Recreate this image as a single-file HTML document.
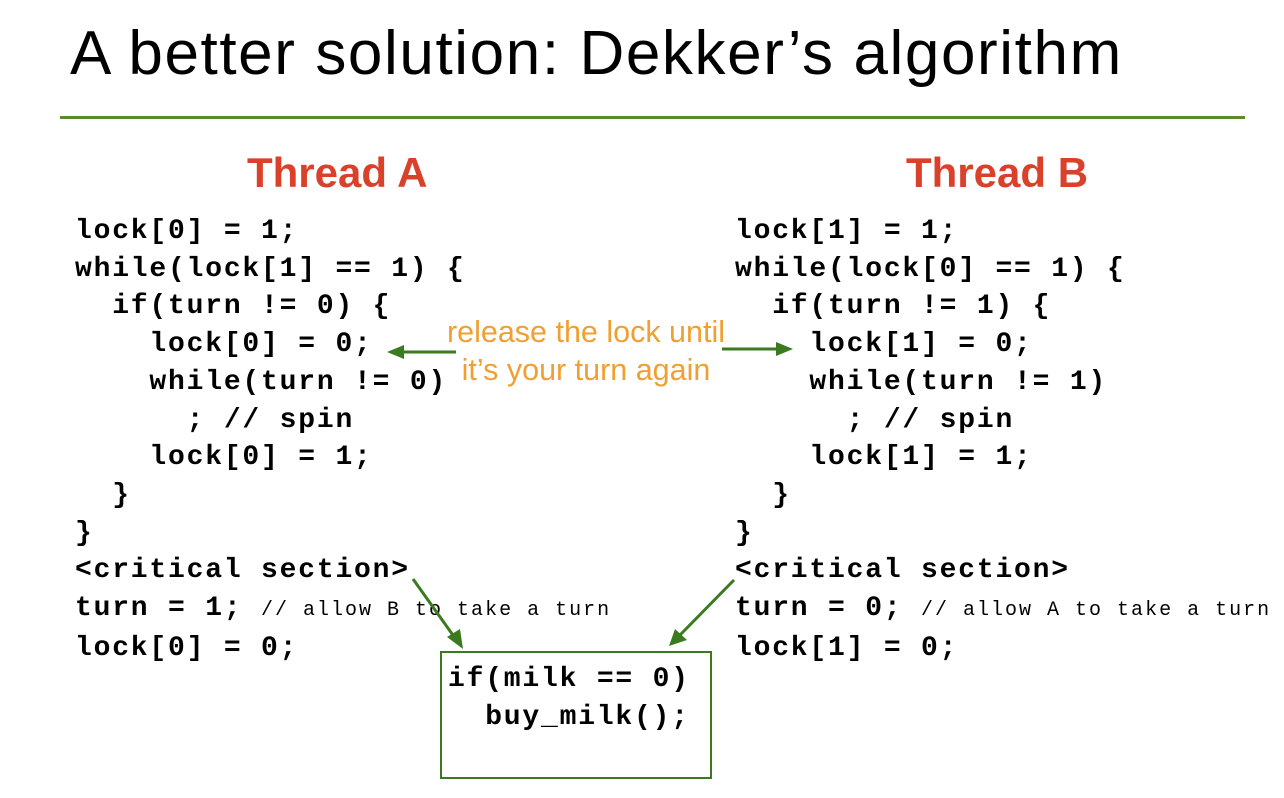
<!DOCTYPE html>
<html><head><meta charset="utf-8"><style>
body{margin:0;width:1284px;height:798px;background:#fff;overflow:hidden;position:relative;font-family:"Liberation Sans",sans-serif}
.t{position:absolute;left:70px;top:23px;font-size:62px;line-height:62px;color:#000;white-space:nowrap;letter-spacing:1.6px}
.hr{position:absolute;left:60px;top:116px;width:1185px;height:3px;background:#5b8a2b}
.th{position:absolute;top:149px;font-size:42px;font-weight:bold;color:#d9412b;white-space:nowrap}
.c{position:absolute;font-family:"Liberation Mono",monospace;font-size:28px;font-weight:bold;letter-spacing:1.8px;white-space:pre;line-height:37.7px;color:#000}
.cm{font-size:20px;letter-spacing:2px;font-weight:normal}
.o{position:absolute;left:416px;top:313px;width:340px;text-align:center;font-size:30.5px;line-height:38px;color:#f0a032}
.box{position:absolute;left:440px;top:651px;width:268px;height:124px;border:2px solid #3b7a1f}
</style></head><body>
<div class="t">A better solution: Dekker’s algorithm</div>
<div class="hr"></div>
<div class="th" style="left:247px">Thread A</div>
<div class="th" style="left:906px">Thread B</div>
<div class="c" style="left:75px;top:213px">lock[0] = 1;
while(lock[1] == 1) {
  if(turn != 0) {
    lock[0] = 0;
    while(turn != 0)
      ; // spin
    lock[0] = 1;
  }
}
&lt;critical section&gt;
turn = 1; <span class="cm">// allow B to take a turn</span>
lock[0] = 0;</div>
<div class="c" style="left:735px;top:213px">lock[1] = 1;
while(lock[0] == 1) {
  if(turn != 1) {
    lock[1] = 0;
    while(turn != 1)
      ; // spin
    lock[1] = 1;
  }
}
&lt;critical section&gt;
turn = 0; <span class="cm">// allow A to take a turn</span>
lock[1] = 0;</div>
<div class="o">release the lock until<br>it’s your turn again</div>
<div class="box"></div>
<div class="c" style="left:448px;top:661px">if(milk == 0)
  buy_milk();</div>
<svg width="1284" height="798" style="position:absolute;left:0;top:0">
<g stroke="#3b7a1f" stroke-width="3" fill="#3b7a1f">
<line x1="456" y1="352" x2="400" y2="352"/><polygon points="387,352 404,345 404,359" stroke="none"/>
<line x1="722" y1="349" x2="780" y2="349"/><polygon points="793,349 776,342 776,356" stroke="none"/>
<line x1="413" y1="579" x2="455" y2="638"/><polygon points="463,649 447,637 460,629" stroke="none"/>
<line x1="734" y1="580" x2="679" y2="636"/><polygon points="669,646 675,629 687,640" stroke="none"/>
</g></svg>
</body></html>
